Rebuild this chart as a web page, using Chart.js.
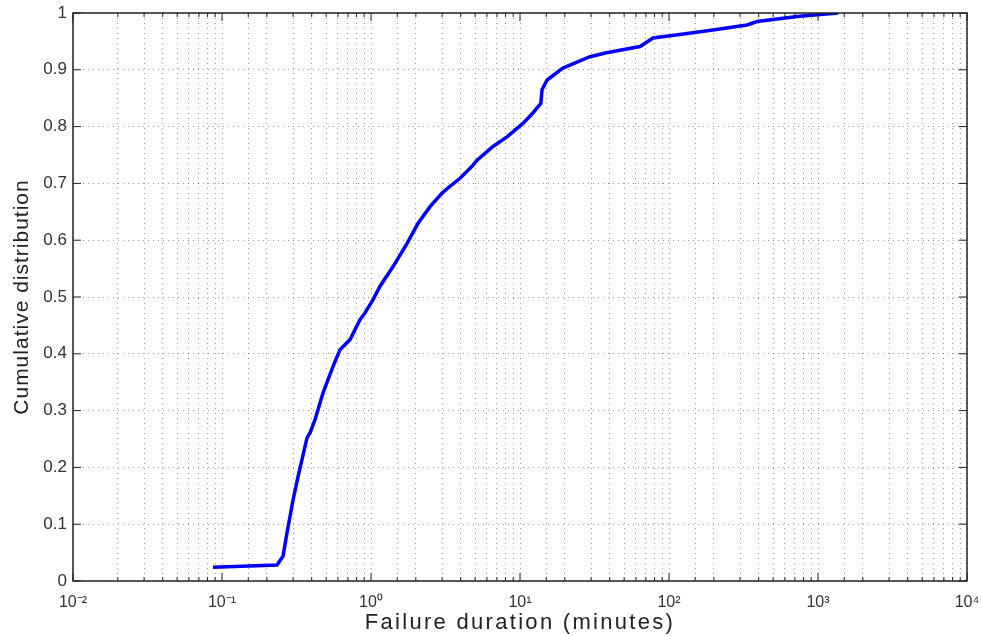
<!DOCTYPE html>
<html>
<head>
<meta charset="utf-8">
<script src="https://cdn.jsdelivr.net/npm/chart.js@4/dist/chart.umd.min.js"></script>
<style>
  html, body { margin: 0; padding: 0; background: #fff; }
  #wrap { width: 982px; height: 636px; position: relative; }
</style>
</head>
<body>
<div id="wrap"><canvas id="cdf"></canvas></div>
<script>
// failure duration (minutes) and cumulative share
const durations = [0.087, 0.234, 0.257, 0.273, 0.300, 0.324, 0.372, 0.390, 0.421, 0.476,
  0.556, 0.619, 0.723, 0.844, 0.911, 1.03, 1.15, 1.41, 1.75, 2.07, 2.49, 3.00, 3.29,
  3.96, 4.76, 5.15, 6.59, 8.18, 10.5, 12.2, 13.8, 14.05, 15.2, 19.4, 29.5, 38, 63.9, 78.1,
  118, 197, 334, 390, 723, 1362];
const cdf = [0.024, 0.028, 0.044, 0.085, 0.143, 0.184, 0.252, 0.261, 0.284, 0.331,
  0.378, 0.407, 0.425, 0.460, 0.472, 0.495, 0.519, 0.554, 0.595, 0.630, 0.659, 0.683, 0.692,
  0.709, 0.730, 0.741, 0.765, 0.782, 0.806, 0.824, 0.841, 0.865, 0.882, 0.903, 0.923, 0.930, 0.941, 0.956,
  0.962, 0.970, 0.979, 0.985, 0.994, 1.0];

const xTickLabels = { '-2': '10⁻²', '-1': '10⁻¹', '0': '10⁰', '1': '10¹', '2': '10²', '3': '10³', '4': '10⁴' };
const yTickLabels = ['0', '0.1', '0.2', '0.3', '0.4', '0.5', '0.6', '0.7', '0.8', '0.9', '1'];

const font = "'Liberation Sans', Arial, sans-serif";

const isDecade = v => {
  const e = Math.log10(v);
  return Math.abs(e - Math.round(e)) < 1e-6;
};

// the original axis titles are set wide, so space the letters out a bit
const spacedTitle = spacing => s => {
  if (s._spaced) return;
  const orig = s.drawTitle;
  s.drawTitle = function () {
    this.ctx.save();
    this.ctx.letterSpacing = spacing;
    orig.call(this);
    this.ctx.restore();
  };
  s._spaced = true;
};

// matlab style box with inward ticks
const boxPlugin = {
  id: 'box',
  afterDatasetsDraw(chart) {
    const { ctx, chartArea: a, scales } = chart;
    ctx.save();
    ctx.strokeStyle = '#222';
    ctx.lineWidth = 1.5;
    ctx.strokeRect(a.left, a.top, a.right - a.left, a.bottom - a.top);
    ctx.lineWidth = 1;
    scales.x.ticks.forEach(t => {
      const px = scales.x.getPixelForValue(t.value);
      const len = isDecade(t.value) ? 8 : 4;
      ctx.beginPath();
      ctx.moveTo(px, a.bottom); ctx.lineTo(px, a.bottom - len);
      ctx.moveTo(px, a.top); ctx.lineTo(px, a.top + len);
      ctx.stroke();
    });
    scales.y.ticks.forEach(t => {
      const py = scales.y.getPixelForValue(t.value);
      ctx.beginPath();
      ctx.moveTo(a.left, py); ctx.lineTo(a.left + 8, py);
      ctx.moveTo(a.right, py); ctx.lineTo(a.right - 8, py);
      ctx.stroke();
    });
    ctx.restore();
  }
};

new Chart(document.getElementById('cdf'), {
  type: 'line',
  data: {
    datasets: [{
      data: durations.map((d, i) => ({ x: d, y: cdf[i] })),
      borderColor: '#0000ff',
      borderWidth: 3.5,
      pointRadius: 0,
      tension: 0,
      fill: false
    }]
  },
  options: {
    responsive: true,
    maintainAspectRatio: false,
    animation: false,
    layout: { padding: { top: 13, right: 15, left: 10, bottom: 0 } },
    plugins: { legend: { display: false }, tooltip: { enabled: false } },
    scales: {
      x: {
        type: 'logarithmic',
        min: 0.01,
        max: 10000,
        afterFit: s => {
          s.height = 55; s.paddingLeft = 0; s.paddingRight = 0;
          spacedTitle('2.3px')(s);
        },
        grid: { color: 'rgba(0,0,0,0.4)', drawTicks: false },
        border: { display: false, dash: [1, 4] },
        ticks: {
          autoSkip: false,
          maxRotation: 0,
          padding: 12,
          color: '#333',
          font: { family: font, size: 16 },
          callback: v => isDecade(v) ? xTickLabels[String(Math.round(Math.log10(v)))] : ''
        },
        title: {
          display: true,
          text: 'Failure duration (minutes)',
          color: '#222',
          font: { family: font, size: 22 },
          padding: { top: 0, bottom: 0 }
        }
      },
      y: {
        min: 0,
        max: 1,
        afterFit: s => {
          s.width = 63; s.paddingTop = 0; s.paddingBottom = 0;
          spacedTitle('1px')(s);
        },
        grid: { color: 'rgba(0,0,0,0.4)', drawTicks: false },
        border: { display: false, dash: [1, 4] },
        ticks: {
          stepSize: 0.1,
          padding: 6,
          color: '#333',
          font: { family: font, size: 17 },
          callback: (v, i) => yTickLabels[i]
        },
        title: {
          display: true,
          text: 'Cumulative distribution',
          color: '#222',
          font: { family: font, size: 21 },
          padding: { top: 0, bottom: 2 }
        }
      }
    }
  },
  plugins: [boxPlugin]
});
</script>
</body>
</html>
